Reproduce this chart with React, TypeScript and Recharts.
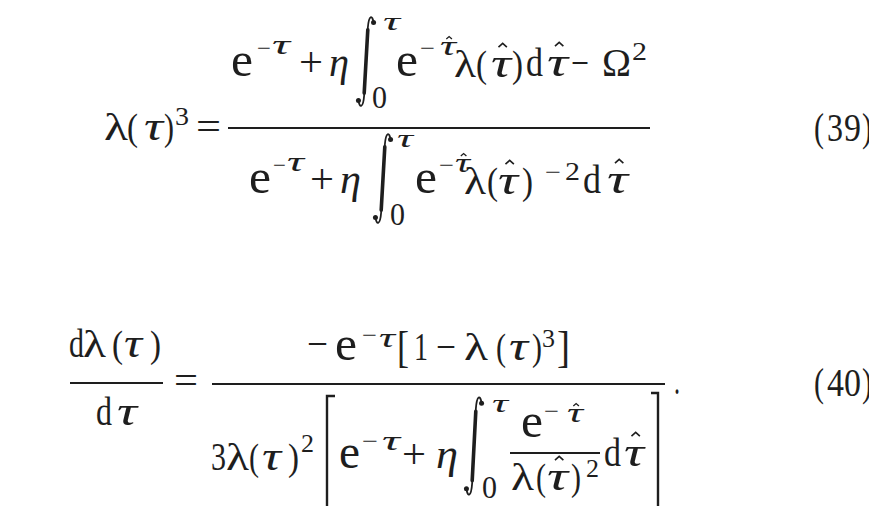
import React from "react";
import { Surface } from "recharts";

// t: glyph, x: left ink edge, w: ink width, y: baseline, s: font size
type Tok = { t: string; x: number; w: number; y: number; s: number; i?: boolean; hat?: boolean };

const FONT = "'Liberation Serif', 'Times New Roman', serif";
const INK = "#1e1e1e";

const eq39Left: Tok[] = [
  { t: "λ", x: 105, w: 22, y: 140, s: 38 },
  { t: "(", x: 128, w: 9, y: 140, s: 38 },
  { t: "τ", x: 145, w: 17, y: 140, s: 42, i: true },
  { t: ")", x: 165, w: 8, y: 140, s: 38 },
  { t: "3", x: 176, w: 12, y: 125, s: 26 },
  { t: "=", x: 197, w: 23, y: 140, s: 40 },
];

const eq39Num: Tok[] = [
  { t: "e", x: 232, w: 20, y: 76, s: 48 },
  { t: "−", x: 258, w: 12, y: 56, s: 24 },
  { t: "τ", x: 273, w: 16, y: 54, s: 28, i: true },
  { t: "+", x: 300, w: 22, y: 76, s: 42 },
  { t: "η", x: 330, w: 18, y: 76, s: 42, i: true },
  { t: "τ", x: 384, w: 15, y: 30, s: 26, i: true },
  { t: "0", x: 373, w: 13, y: 108, s: 32 },
  { t: "e", x: 397, w: 20, y: 76, s: 48 },
  { t: "−", x: 421, w: 13, y: 56, s: 24 },
  { t: "τ", x: 441, w: 14, y: 55, s: 28, i: true, hat: true },
  { t: "λ", x: 455, w: 20, y: 77, s: 38 },
  { t: "(", x: 477, w: 9, y: 77, s: 38 },
  { t: "τ", x: 492, w: 18, y: 77, s: 42, i: true, hat: true },
  { t: ")", x: 513, w: 9, y: 77, s: 38 },
  { t: "d", x: 527, w: 15, y: 76, s: 40 },
  { t: "τ", x: 548, w: 19, y: 76, s: 42, i: true, hat: true },
  { t: "−", x: 572, w: 16, y: 76, s: 40 },
  { t: "Ω", x: 603, w: 27, y: 76, s: 40 },
  { t: "2", x: 633, w: 13, y: 60, s: 26 },
];

const eq39Den: Tok[] = [
  { t: "e", x: 250, w: 20, y: 193, s: 48 },
  { t: "−", x: 274, w: 11, y: 173, s: 24 },
  { t: "τ", x: 288, w: 15, y: 171, s: 28, i: true },
  { t: "+", x: 311, w: 22, y: 193, s: 42 },
  { t: "η", x: 341, w: 19, y: 193, s: 42, i: true },
  { t: "τ", x: 398, w: 14, y: 147, s: 26, i: true },
  { t: "0", x: 391, w: 13, y: 225, s: 32 },
  { t: "e", x: 416, w: 20, y: 193, s: 48 },
  { t: "−", x: 440, w: 13, y: 173, s: 24 },
  { t: "τ", x: 456, w: 13, y: 172, s: 28, i: true, hat: true },
  { t: "λ", x: 465, w: 20, y: 194, s: 38 },
  { t: "(", x: 488, w: 9, y: 194, s: 38 },
  { t: "τ", x: 499, w: 18, y: 194, s: 42, i: true, hat: true },
  { t: ")", x: 523, w: 9, y: 194, s: 38 },
  { t: "−", x: 546, w: 14, y: 180, s: 24 },
  { t: "2", x: 566, w: 13, y: 180, s: 26 },
  { t: "d", x: 584, w: 16, y: 193, s: 40 },
  { t: "τ", x: 608, w: 19, y: 193, s: 42, i: true, hat: true },
];

const eq40Left: Tok[] = [
  { t: "d", x: 70, w: 13, y: 357, s: 40 },
  { t: "λ", x: 84, w: 21, y: 357, s: 38 },
  { t: "(", x: 113, w: 9, y: 357, s: 38 },
  { t: "τ", x: 125, w: 16, y: 357, s: 42, i: true },
  { t: ")", x: 151, w: 9, y: 357, s: 38 },
  { t: "d", x: 97, w: 14, y: 425, s: 40 },
  { t: "τ", x: 118, w: 18, y: 425, s: 42, i: true },
  { t: "=", x: 175, w: 22, y: 394, s: 40 },
];

const eq40Num: Tok[] = [
  { t: "−", x: 308, w: 19, y: 357, s: 40 },
  { t: "e", x: 336, w: 20, y: 360, s: 48 },
  { t: "−", x: 363, w: 13, y: 343, s: 24 },
  { t: "τ", x: 380, w: 14, y: 347, s: 28, i: true },
  { t: "[", x: 398, w: 10, y: 362, s: 44 },
  { t: "1", x: 415, w: 12, y: 360, s: 40 },
  { t: "−", x: 437, w: 18, y: 360, s: 40 },
  { t: "λ", x: 465, w: 22, y: 360, s: 38 },
  { t: "(", x: 497, w: 8, y: 360, s: 38 },
  { t: "τ", x: 510, w: 17, y: 360, s: 42, i: true },
  { t: ")", x: 533, w: 8, y: 360, s: 38 },
  { t: "3", x: 543, w: 11, y: 347, s: 26 },
  { t: "]", x: 558, w: 11, y: 362, s: 44 },
  { t: ".", x: 675, w: 4, y: 394, s: 40 },
];

const eq40Den: Tok[] = [
  { t: "3", x: 212, w: 13, y: 470, s: 40 },
  { t: "λ", x: 227, w: 21, y: 470, s: 38 },
  { t: "(", x: 250, w: 8, y: 470, s: 38 },
  { t: "τ", x: 263, w: 17, y: 470, s: 42, i: true },
  { t: ")", x: 289, w: 9, y: 470, s: 38 },
  { t: "2", x: 302, w: 11, y: 452, s: 26 },
  { t: "e", x: 340, w: 19, y: 468, s: 48 },
  { t: "−", x: 363, w: 14, y: 449, s: 24 },
  { t: "τ", x: 383, w: 16, y: 450, s: 28, i: true },
  { t: "+", x: 403, w: 22, y: 468, s: 42 },
  { t: "η", x: 437, w: 20, y: 468, s: 42, i: true },
  { t: "τ", x: 493, w: 14, y: 412, s: 26, i: true },
  { t: "0", x: 483, w: 13, y: 498, s: 32 },
  { t: "e", x: 522, w: 20, y: 437, s: 48 },
  { t: "−", x: 545, w: 13, y: 419, s: 24 },
  { t: "τ", x: 568, w: 14, y: 422, s: 28, i: true, hat: true },
  { t: "λ", x: 512, w: 21, y: 490, s: 38 },
  { t: "(", x: 537, w: 8, y: 490, s: 38 },
  { t: "τ", x: 548, w: 19, y: 490, s: 42, i: true, hat: true },
  { t: ")", x: 572, w: 8, y: 490, s: 38 },
  { t: "2", x: 587, w: 11, y: 477, s: 26 },
  { t: "d", x: 605, w: 15, y: 466, s: 40 },
  { t: "τ", x: 625, w: 18, y: 466, s: 42, i: true, hat: true },
];

const eqNumbers: Tok[] = [
  { t: "(", x: 815, w: 8, y: 141, s: 40 },
  { t: "3", x: 828, w: 14, y: 141, s: 40 },
  { t: "9", x: 845, w: 15, y: 141, s: 40 },
  { t: ")", x: 863, w: 8, y: 141, s: 40 },
  { t: "(", x: 815, w: 8, y: 396, s: 40 },
  { t: "4", x: 828, w: 15, y: 396, s: 40 },
  { t: "0", x: 845, w: 15, y: 396, s: 40 },
  { t: ")", x: 863, w: 8, y: 396, s: 40 },
];

// fraction bars: [x1, x2, y, thickness]
const bars: [number, number, number, number][] = [
  [228, 650, 128, 2.2],
  [70, 163, 383, 2.2],
  [212, 665, 384, 2.2],
  [510, 600, 453, 1.8],
];

// integral signs: [x, y, w, h]
const integrals: [number, number, number, number][] = [
  [357, 15, 18, 93],
  [374, 132, 18, 93],
  [465, 395, 18, 102],
];

const Integral = ({ b }: { b: [number, number, number, number] }) => {
  const [x, y, w, h] = b;
  const P = (u: number, v: number) => `${x + u * w},${y + v * h}`;
  const d = `M${P(0.92, 0.08)} C${P(0.86, 0.0)} ${P(0.66, -0.01)} ${P(0.6, 0.14)} L${P(0.4, 0.86)} C${P(0.34, 1.01)} ${P(0.14, 1.0)} ${P(0.08, 0.92)}`;
  const mid = `M${P(0.6, 0.16)} L${P(0.4, 0.84)}`;
  return (
    <g>
      <path d={d} fill="none" stroke={INK} strokeWidth={1.8} strokeLinecap="round" />
      <path d={mid} fill="none" stroke={INK} strokeWidth={3.6} strokeLinecap="round" />
      <circle cx={x + 0.92 * w} cy={y + 0.08 * h} r={2.5} fill={INK} />
      <circle cx={x + 0.08 * w} cy={y + 0.92 * h} r={2.5} fill={INK} />
    </g>
  );
};

const Hat = ({ tk }: { tk: Tok }) => {
  const cx = tk.x + tk.w / 2 + tk.s * 0.04;
  const hy = tk.y - tk.s * (tk.s > 30 ? 0.8 : 0.66);
  const hw = tk.s * 0.1;
  return (
    <path
      d={`M${cx - hw},${hy + hw * 0.9} L${cx},${hy} L${cx + hw},${hy + hw * 0.9}`}
      fill="none"
      stroke={INK}
      strokeWidth={tk.s > 30 ? 1.6 : 1.3}
    />
  );
};

const Tokens = ({ list }: { list: Tok[] }) => (
  <g>
    {list.map((tk, k) => (
      <g key={k}>
        <text
          x={tk.x - 1}
          y={tk.y}
          fontSize={tk.s}
          fontFamily={FONT}
          fontStyle={tk.i ? "italic" : "normal"}
          fill={INK}
          textLength={tk.w + 2}
          lengthAdjust="spacingAndGlyphs"
        >
          {tk.t}
        </text>
        {tk.hat ? <Hat tk={tk} /> : null}
      </g>
    ))}
  </g>
);

export default function App() {
  return (
    <div style={{ position: "absolute", left: 0, top: 0, width: 869, height: 506, background: "#fff", overflow: "hidden" }}>
      <Surface width={869} height={506}>
        <rect x={0} y={0} width={869} height={506} fill="#fff" />
        {bars.map(([a, b, y, t], k) => (
          <line key={k} x1={a} x2={b} y1={y} y2={y} stroke={INK} strokeWidth={t} />
        ))}
        {integrals.map((b, k) => (
          <Integral key={k} b={b} />
        ))}
        <path d="M335,396 L327,396 L327,520" fill="none" stroke={INK} strokeWidth={2.4} />
        <path d="M651,393 L658,393 L658,520" fill="none" stroke={INK} strokeWidth={2.4} />
        <Tokens list={eq39Left} />
        <Tokens list={eq39Num} />
        <Tokens list={eq39Den} />
        <Tokens list={eq40Left} />
        <Tokens list={eq40Num} />
        <Tokens list={eq40Den} />
        <Tokens list={eqNumbers} />
      </Surface>
    </div>
  );
}
